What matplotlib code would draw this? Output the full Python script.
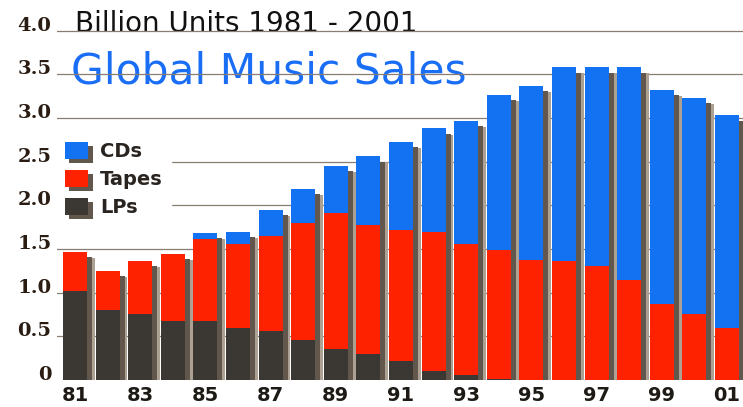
import matplotlib
matplotlib.use("Agg")
import matplotlib.pyplot as plt
from matplotlib.patches import Patch
from matplotlib import patheffects as pe
import numpy as np

years = ["81", "82", "83", "84", "85", "86", "87", "88", "89", "90", "91",
         "92", "93", "94", "95", "96", "97", "98", "99", "00", "01"]
lps = [1.02, 0.80, 0.75, 0.68, 0.68, 0.59, 0.56, 0.46, 0.36, 0.30, 0.22,
       0.10, 0.06, 0.01, 0.0, 0.0, 0.0, 0.0, 0.0, 0.0, 0.0]
tapes = [0.45, 0.45, 0.61, 0.76, 0.93, 0.97, 1.09, 1.34, 1.55, 1.47, 1.50,
         1.59, 1.50, 1.48, 1.37, 1.36, 1.30, 1.14, 0.87, 0.75, 0.60]
cds = [0.0, 0.0, 0.0, 0.0, 0.07, 0.14, 0.30, 0.39, 0.54, 0.79, 1.01,
       1.19, 1.41, 1.77, 2.00, 2.22, 2.28, 2.44, 2.45, 2.48, 2.43]
ytick_vals = [0, 0.5, 1.0, 1.5, 2.0, 2.5, 3.0, 3.5, 4.0]
ytick_labels = ["0", "0.5", "1.0", "1.5", "2.0", "2.5", "3.0", "3.5", "4.0"]

c_cd = "#1372f2"
c_tape = "#ff2200"
c_lp = "#3b3733"
c_shadow_in = "#62574d"
c_shadow_out = "#ada194"

fig = plt.figure(figsize=(7.43, 4.07), dpi=100)
ax = fig.add_axes([0.0767, 0.0663, 0.9233, 0.9337])

x = np.arange(len(years))
lps = np.array(lps)
tapes = np.array(tapes)
cds = np.array(cds)
total = lps + tapes + cds
w = 0.74

# shadows behind the bars
ax.bar(x + 0.24, total - 0.07, w, color=c_shadow_out, zorder=1)
ax.bar(x + 0.15, total - 0.06, w, color=c_shadow_in, zorder=1.5)

ax.bar(x, lps, w, color=c_lp, zorder=2)
ax.bar(x, tapes, w, bottom=lps, color=c_tape, zorder=2)
ax.bar(x, cds, w, bottom=lps + tapes, color=c_cd, zorder=2)

for v in ytick_vals[1:]:
    ax.axhline(v, color="#8a7d72", lw=0.9, zorder=0.5)

ax.set_xlim(-0.552, 20.49)
ax.set_ylim(0, 4.35)
for s in ax.spines.values():
    s.set_visible(False)

ax.set_yticks(ytick_vals)
ax.set_yticklabels(ytick_labels, fontsize=14, fontweight="bold",
                   color="#2a1c12", family="DejaVu Serif")
for lab in ax.get_yticklabels():
    lab.set_va("baseline")
ax.tick_params(axis="y", length=0, pad=4)

ax.set_xticks(x[::2])
ax.set_xticklabels(years[::2], fontsize=14, fontweight="bold",
                   color="#1e1a16", family="DejaVu Sans")
ax.tick_params(axis="x", length=0, pad=4)

ax.text(0.0, 3.98, "Billion Units 1981 - 2001", fontsize=20,
        family="DejaVu Sans", color="#111111", va="baseline", zorder=0.2)
ax.text(-0.12, 3.39, "Global Music Sales", fontsize=30.5,
        family="DejaVu Sans", color="#1a6ef5", va="baseline", zorder=0.2)

shadow = [pe.withSimplePatchShadow(offset=(3, -3), shadow_rgbFace=c_shadow_in,
                                   alpha=1), pe.Normal()]
handles = [Patch(facecolor=c_cd, label="CDs", path_effects=shadow),
           Patch(facecolor=c_tape, label="Tapes", path_effects=shadow),
           Patch(facecolor=c_lp, label="LPs", path_effects=shadow)]
leg = ax.legend(handles=handles, loc="upper left",
                bbox_to_anchor=(-0.0137, 0.673), frameon=True, fancybox=False,
                framealpha=1, edgecolor="white", facecolor="white",
                prop={"family": "DejaVu Sans", "size": 14, "weight": "bold"},
                handlelength=1.2, handleheight=0.95, labelspacing=0.47,
                handletextpad=0.6, borderpad=0.4)
for t in leg.get_texts():
    t.set_color("#2a2420")
leg.set_zorder(3)

fig.savefig("out.png", dpi=100)
